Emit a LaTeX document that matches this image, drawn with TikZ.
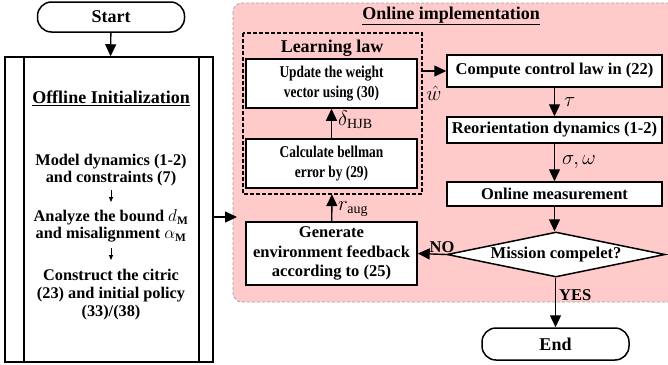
\documentclass[tikz,border=0pt]{standalone}
\usepackage{fontspec}
\usepackage{graphicx}
\setmainfont{Liberation Serif}
\newcommand{\cnd}[1]{\scalebox{0.81}[1]{#1}}
\usetikzlibrary{shapes.geometric,arrows.meta}
\definecolor{pinkbg}{RGB}{255,202,202}
\definecolor{bordergray}{RGB}{165,165,165}
\begin{document}
\begin{tikzpicture}[x=1pt,y=-1pt,
  every node/.style={font=\bfseries\fontsize{16.5}{19.5}\selectfont},
  box/.style={draw, fill=white, line width=1.5pt, align=center, inner sep=0pt},
  term/.style={draw, fill=white, line width=1.5pt, rounded corners=14pt, inner sep=0pt, minimum width=147pt, font=\bfseries\fontsize{18}{20}\selectfont},
  arr/.style={line width=1.4pt, -{Triangle[length=12pt,width=11pt]}},
  sarr/.style={line width=0.8pt, -{Triangle[length=5pt,width=4pt]}},
  lbl/.style={font=\fontsize{20}{22}\selectfont, inner sep=1pt},
  ttl/.style={font=\bfseries\fontsize{18}{20}\selectfont},
  otxt/.style={align=center, font=\bfseries\fontsize{16.3}{17}\selectfont},
  ctxt/.style={font=\bfseries\fontsize{16.5}{20}\selectfont}
]
\useasboundingbox (0,0) rectangle (668,364);
% pink online region
\draw[fill=pinkbg, draw=bordergray, dash pattern=on 3pt off 2pt, line width=0.8pt, rounded corners=9pt] (233,3) rectangle (680,302);
\node[ttl] (ontitle) at (451,16) {\underline{Online implementation}};

% start / offline
\node[term, minimum height=30pt] (start) at (111,17) {Start};
\node[draw, line width=1.5pt, minimum width=208pt, minimum height=305pt, inner sep=0pt] (off) at (109,209.5) {};
\draw[line width=1.5pt] (24,57) -- (24,362);
\draw[line width=1.5pt] (199,57) -- (199,362);
\draw[arr] (start) -- (off);
\node[ttl] (offtitle) at (111,98) {\underline{Offline Initialization}};
\node[otxt] (t1) at (111,170) {Model dynamics (1-2)\\and constraints (7)};
\node[otxt] (t2) at (111,226) {Analyze the bound $d_{\mathbf{M}}$\\and misalignment $\alpha_{\mathbf{M}}$};
\node[otxt, font=\bfseries\fontsize{16.3}{18}\selectfont] (t3) at (111,295) {Construct the citric\\(23) and initial policy\\(33)/(38)};
\draw[sarr] (111,190) -- (111,202);
\draw[sarr] (111,248) -- (111,260);
\coordinate (onin) at (237,217);
\draw[arr] (off.east |- onin) -- (onin);

% learning law
\draw[dash pattern=on 4pt off 2pt, line width=1.3pt] (243,33) rectangle (422,194);
\node (learn) at (332.5,113.5) [minimum width=179pt, minimum height=161pt, inner sep=0pt] {};
\node[ttl] (lltitle) at (332,48) {Learning law};
\node[box, ctxt, minimum width=171pt, minimum height=49pt] (upd) at (331.5,83.5) {\cnd{Update the weight}\\\cnd{vector using (30)}};
\node[box, ctxt, minimum width=171pt, minimum height=49pt] (bell) at (331.5,163.5) {\cnd{Calculate bellman}\\\cnd{error by (29)}};
\node[box, minimum width=171pt, minimum height=63pt] (gen) at (331.5,253.5) {Generate\\environment feedback\\according to (25)};
\draw[arr] (bell) -- (upd);
\node[lbl, anchor=west] (dlbl) at (337,120) {$\delta_{\mathrm{HJB}}$};
\draw[arr] (gen) -- (learn);
\node[lbl, anchor=west] (rlbl) at (337,209) {$r_{\mathrm{aug}}$};

% right chain
\node[box, minimum width=215pt, minimum height=32pt] (comp) at (554.5,71) {Compute control law in (22)};
\node[box, minimum width=215pt, minimum height=26pt] (reo) at (554.5,130) {Reorientation dynamics (1-2)};
\node[box, minimum width=215pt, minimum height=24pt] (meas) at (554.5,194) {Online measurement};
\node[draw, fill=white, line width=1.5pt, diamond, aspect=4.8, inner sep=0pt, minimum width=218pt, minimum height=45pt] (dec) at (556,254.5) {Mission compelet?};
\node[term, minimum height=32pt] (end) at (555.5,344) {End};

\draw[arr] (learn.east |- comp.west) -- (comp.west);
\node[lbl] (wlbl) at (434,93) {$\hat{w}$};
\draw[arr] (comp.south -| reo.north) -- (reo.north);
\node[lbl, anchor=west] (tlbl) at (563,102) {$\tau$};
\draw[arr] (reo) -- (meas);
\node[lbl, anchor=west] (slbl) at (561,162) {$\sigma,\omega$};
\draw[arr] (meas.south) -- (meas.south |- dec.north);
\draw[arr] (dec.west) -- node[above, pos=0.15, inner sep=1pt] {NO} (gen.east);
\draw[arr] (dec.south -| end.north) -- node[right, pos=0.35, inner sep=3pt] {YES} (end.north);
\end{tikzpicture}
\end{document}
